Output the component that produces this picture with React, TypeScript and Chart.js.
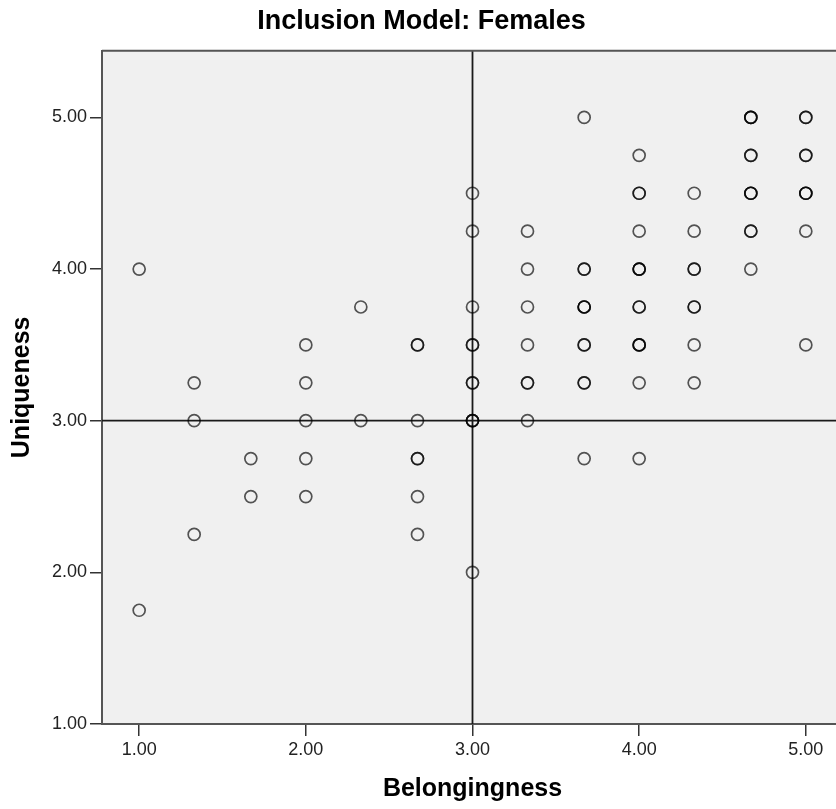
import React, { useEffect, useRef } from "react";
import { Chart, registerables } from "chart.js";

Chart.register(...registerables);

// Each entry is one distinct (belongingness, uniqueness) pair, with how many cases share it
const belongingness = [
  1.0, 1.0,
  1.33, 1.33, 1.33,
  1.67, 1.67,
  2.0, 2.0, 2.0, 2.0, 2.0,
  2.33, 2.33,
  2.67, 2.67, 2.67, 2.67, 2.67,
  3.0, 3.0, 3.0, 3.0, 3.0, 3.0, 3.0,
  3.33, 3.33, 3.33, 3.33, 3.33, 3.33,
  3.67, 3.67, 3.67, 3.67, 3.67, 3.67,
  4.0, 4.0, 4.0, 4.0, 4.0, 4.0, 4.0, 4.0,
  4.33, 4.33, 4.33, 4.33, 4.33, 4.33,
  4.67, 4.67, 4.67, 4.67, 4.67,
  5.0, 5.0, 5.0, 5.0, 5.0,
];
const uniqueness = [
  4.0, 1.75,
  3.25, 3.0, 2.25,
  2.75, 2.5,
  3.5, 3.25, 3.0, 2.75, 2.5,
  3.75, 3.0,
  3.5, 3.0, 2.75, 2.5, 2.25,
  4.5, 4.25, 3.75, 3.5, 3.25, 3.0, 2.0,
  4.25, 4.0, 3.75, 3.5, 3.25, 3.0,
  5.0, 4.0, 3.75, 3.5, 3.25, 2.75,
  4.75, 4.5, 4.25, 4.0, 3.75, 3.5, 3.25, 2.75,
  4.5, 4.25, 4.0, 3.75, 3.5, 3.25,
  5.0, 4.75, 4.5, 4.25, 4.0,
  5.0, 4.75, 4.5, 4.25, 3.5,
];
const overlap = [
  1, 1,
  1, 1, 1,
  1, 1,
  1, 1, 1, 1, 1,
  1, 1,
  2, 1, 2, 1, 1,
  1, 1, 1, 2, 2, 3, 1,
  1, 1, 1, 1, 2, 1,
  1, 2, 3, 2, 2, 1,
  1, 2, 1, 3, 2, 3, 1, 1,
  1, 1, 2, 2, 1, 1,
  3, 2, 3, 2, 1,
  2, 2, 3, 1, 1,
];

const xTicks = [1, 2, 3, 4, 5];
const yTicks = [1, 2, 3, 4, 5];
const xRange = [0.777, 5.223];
const yRange = [1.0, 5.44];
const referenceX = 3.0;
const referenceY = 3.0;

const chartTitle = "Inclusion Model: Females";
const xTitle = "Belongingness";
const yTitle = "Uniqueness";

const FONT = "'Liberation Sans', Arial, sans-serif";

const framePlugin = {
  id: "spssFrame",
  beforeDraw(chart: any) {
    const { ctx, chartArea } = chart;
    ctx.save();
    ctx.fillStyle = "#f0f0f0";
    ctx.fillRect(chartArea.left, chartArea.top, chartArea.right - chartArea.left, chartArea.bottom - chartArea.top);
    ctx.restore();
  },
  beforeDatasetsDraw(chart: any) {
    const { ctx, chartArea, scales } = chart;
    const px = scales.x.getPixelForValue(referenceX);
    const py = scales.y.getPixelForValue(referenceY);
    ctx.save();
    ctx.strokeStyle = "#1a1a1a";
    ctx.lineWidth = 1.8;
    ctx.beginPath();
    ctx.moveTo(px, chartArea.top);
    ctx.lineTo(px, chartArea.bottom);
    ctx.moveTo(chartArea.left, py);
    ctx.lineTo(chartArea.right, py);
    ctx.stroke();
    // top frame line
    ctx.strokeStyle = "#555555";
    ctx.lineWidth = 2;
    ctx.beginPath();
    ctx.moveTo(chartArea.left, chartArea.top);
    ctx.lineTo(chartArea.right, chartArea.top);
    ctx.stroke();
    ctx.restore();
  },
};

export default function App() {
  const ref = useRef<HTMLCanvasElement>(null);

  useEffect(() => {
    if (!ref.current) return;
    const points: { x: number; y: number }[] = [];
    belongingness.forEach((b, i) => {
      for (let k = 0; k < overlap[i]; k++) points.push({ x: b, y: uniqueness[i] });
    });

    const chart = new Chart(ref.current, {
      type: "scatter",
      data: {
        datasets: [
          {
            data: points,
            pointStyle: "circle",
            pointRadius: 6,
            pointHoverRadius: 6,
            pointBorderWidth: 1.7,
            pointBackgroundColor: "rgba(0,0,0,0)",
            pointBorderColor: "rgba(0,0,0,0.66)",
          },
        ],
      },
      options: {
        animation: false,
        responsive: false,
        maintainAspectRatio: false,
        layout: { padding: 0, autoPadding: false },
        plugins: {
          legend: { display: false },
          tooltip: { enabled: false },
          title: {
            display: true,
            text: chartTitle,
            color: "#000",
            font: { family: FONT, size: 27, weight: "bold", lineHeight: 1.2 },
            padding: { top: 5, bottom: 13.3 },
          },
        },
        scales: {
          x: {
            type: "linear",
            min: xRange[0],
            max: xRange[1],
            afterBuildTicks: (s: any) => {
              s.ticks = xTicks.map((v) => ({ value: v }));
            },
            afterFit: (s: any) => {
              s.height = 85;
            },
            ticks: {
              color: "#222",
              font: { family: FONT, size: 18 },
              padding: 3,
              maxRotation: 0,
              autoSkip: false,
              callback: (v: any) => Number(v).toFixed(2),
            },
            grid: {
              drawOnChartArea: false,
              drawTicks: true,
              tickLength: 12,
              color: "#333",
              lineWidth: 1.5,
            },
            border: { display: true, color: "#555", width: 2 },
            title: {
              display: true,
              text: xTitle,
              color: "#000",
              font: { family: FONT, size: 25, weight: "bold", lineHeight: 1.2 },
              padding: { top: 0, bottom: 5 },
            },
          },
          y: {
            type: "linear",
            min: yRange[0],
            max: yRange[1],
            afterBuildTicks: (s: any) => {
              s.ticks = yTicks.map((v) => ({ value: v }));
            },
            afterFit: (s: any) => {
              s.width = 102;
            },
            ticks: {
              color: "#222",
              font: { family: FONT, size: 18 },
              padding: 3,
              autoSkip: false,
              callback: (v: any) => Number(v).toFixed(2),
            },
            grid: {
              drawOnChartArea: false,
              drawTicks: true,
              tickLength: 12,
              color: "#333",
              lineWidth: 1.5,
            },
            border: { display: true, color: "#555", width: 2 },
            title: {
              display: true,
              text: yTitle,
              color: "#000",
              font: { family: FONT, size: 25, weight: "bold", lineHeight: 1.2 },
              padding: { top: 7, bottom: 0 },
            },
          },
        },
      },
      plugins: [framePlugin],
    });
    return () => chart.destroy();
  }, []);

  return (
    <div
      style={{
        position: "absolute",
        left: 0,
        top: 0,
        width: 836,
        height: 809,
        overflow: "hidden",
        background: "#fff",
      }}
    >
      <canvas ref={ref} width={843} height={809} style={{ width: 843, height: 809, display: "block" }} />
    </div>
  );
}
